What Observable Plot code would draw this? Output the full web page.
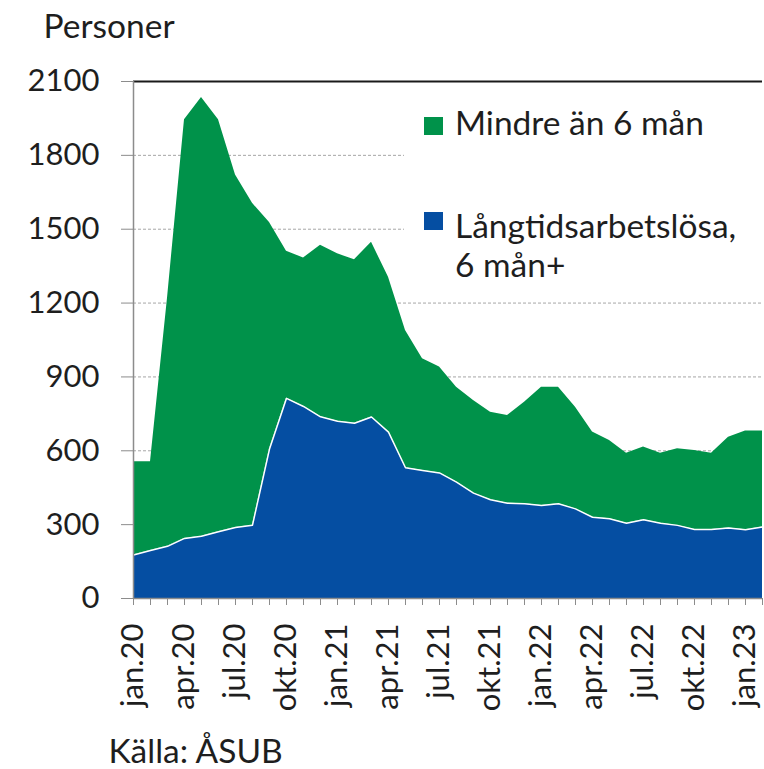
<!DOCTYPE html>
<html><head><meta charset="utf-8">
<script src="https://cdn.jsdelivr.net/npm/d3@7"></script>
<script src="https://cdn.jsdelivr.net/npm/@observablehq/plot@0.6"></script>
<style>
html,body{margin:0;padding:0;background:#fff;}
#wrap{position:relative;width:764px;height:769px;font-family:Lato, sans-serif;}
#wrap svg{display:block;}
#legend{position:absolute;left:0;top:0;pointer-events:none;}
</style></head><body><div id="wrap"></div>
<script>
const months = ["jan.20","feb.20","mar.20","apr.20","maj.20","jun.20","jul.20","aug.20","sep.20","okt.20","nov.20","dec.20",
  "jan.21","feb.21","mar.21","apr.21","maj.21","jun.21","jul.21","aug.21","sep.21","okt.21","nov.21","dec.21",
  "jan.22","feb.22","mar.22","apr.22","maj.22","jun.22","jul.22","aug.22","sep.22","okt.22","nov.22","dec.22",
  "jan.23","feb.23"];
const tickLabels = ["jan.20","apr.20","jul.20","okt.20","jan.21","apr.21","jul.21","okt.21","jan.22","apr.22","jul.22","okt.22","jan.23"];
const longTerm = [177,195,212,244,253,271,288,298,607,813,780,738,
  720,712,737,676,531,520,510,473,428,401,387,385,
  378,385,364,330,324,306,320,306,297,280,280,286,
  279,290];
const shortTerm = [378,360,1008,1701,1782,1674,1432,1307,920,598,603,697,
  680,664,710,629,558,454,430,385,376,356,356,412,
  480,473,413,346,318,284,295,284,311,321,310,369,
  401,390];
const seriesNames = ["Långtidsarbetslösa, 6 mån+", "Mindre än 6 mån"];
const seriesColors = ["#054EA2", "#00924A"];
const yTicks = [0,300,600,900,1200,1500,1800,2100];
const gridValues = [300,600,900,1200,1500,1800];
const yLabel = "Personer";
const source = "Källa: ÅSUB";
const legendLines = [["Mindre än 6 mån"], ["Långtidsarbetslösa,", "6 mån+"]];
const legendColors = [seriesColors[1], seriesColors[0]];

const rows = [];
months.forEach((m, i) => {
  rows.push({month: m, series: seriesNames[0], value: longTerm[i]});
  rows.push({month: m, series: seriesNames[1], value: shortTerm[i]});
});
const longRows = months.map((m, i) => ({month: m, value: longTerm[i]}));

const FONT = 31;      // tick labels
const FONT_T = 33.5;  // titles, legend, source
const TEXT = "#1e1e1e";
const AXIS = "#8c8c8c";

const chart = Plot.plot({
  width: 764, height: 769,
  marginLeft: 133, marginRight: 2, marginTop: 81, marginBottom: 171,
  style: {fontFamily: "Lato, sans-serif", fontSize: FONT + "px", color: TEXT, background: "white"},
  x: {type: "point", domain: months, padding: 0, label: null},
  y: {domain: [0, 2100], label: null},
  color: {domain: seriesNames, range: seriesColors},
  marks: [
    Plot.ruleY(gridValues, {stroke: "#a6a6a6", strokeDasharray: "3,2", strokeWidth: 1}),
    Plot.areaY(rows, {x: "month", y: "value", fill: "series", order: seriesNames}),
    Plot.lineY(longRows, {x: "month", y: "value", stroke: "white", strokeWidth: 1.5}),
    Plot.ruleY([2100], {stroke: "#1a1a1a", strokeWidth: 2}),
    Plot.ruleY([0], {stroke: AXIS, strokeWidth: 1.5}),
    Plot.ruleX([months[0]], {stroke: AXIS, strokeWidth: 1.5}),
    Plot.axisY({ticks: yTicks, tickSize: 12, tickPadding: 22, stroke: AXIS, fill: TEXT, fontSize: FONT,
      tickFormat: d => String(d), label: null}),
    Plot.axisX({ticks: months, tickSize: 7, tickPadding: 18, tickRotate: -90, stroke: AXIS, fill: TEXT, fontSize: FONT,
      tickFormat: d => tickLabels.includes(d) ? d : "", label: null}),
    Plot.text([yLabel], {text: d => d, frameAnchor: "top-left", dx: 43 - 133, dy: 37 - 81, textAnchor: "start", lineAnchor: "bottom", fontSize: FONT_T, fill: TEXT}),
    Plot.text([source], {text: d => d, frameAnchor: "bottom-left", dx: 108 - 133, dy: 762 - 598, textAnchor: "start", lineAnchor: "bottom", fontSize: FONT_T, fill: TEXT})
  ]
});
const wrap = document.getElementById("wrap");
wrap.appendChild(chart);

// legend overlay
const lg = d3.select(wrap).append("svg").attr("id", "legend").attr("width", 764).attr("height", 769)
  .style("font-family", "Lato, sans-serif").style("font-size", FONT_T + "px");
lg.append("rect").attr("x", 404).attr("y", 92).attr("width", 357).attr("height", 200).attr("fill", "white");
const entryTop = [117, 212];
const entryBase = [135, 238];
legendLines.forEach((lines, i) => {
  lg.append("rect").attr("x", 424).attr("y", entryTop[i]).attr("width", 19).attr("height", 18).attr("fill", legendColors[i]);
  lines.forEach((t, j) => {
    lg.append("text").attr("x", 455).attr("y", entryBase[i] + 39 * j).attr("fill", TEXT).text(t);
  });
});
</script></body></html>
